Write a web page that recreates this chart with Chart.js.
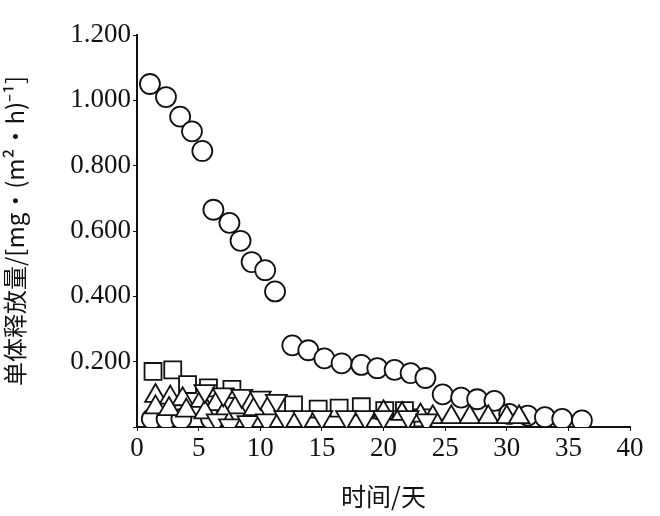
<!DOCTYPE html>
<html lang="zh">
<head>
<meta charset="UTF-8">
<title>单体释放量</title>
<script src="https://cdn.jsdelivr.net/npm/chart.js@4"></script>
<style>body{margin:0;background:#fff}</style>
</head>
<body>
<canvas id="myChart" width="660" height="516"></canvas>
<script>
const circleX = [1.05,2.35,3.5,4.46,5.3,6.2,7.5,8.4,9.3,10.4,11.2,12.6,13.9,15.2,16.6,18.2,19.5,20.9,22.2,23.4,24.8,26.3,27.6,29,30.2,31.7,33.1,34.5,36.1];
const circleY = [1.05,1.01,0.95,0.905,0.845,0.665,0.625,0.57,0.505,0.48,0.415,0.25,0.235,0.21,0.195,0.19,0.18,0.175,0.165,0.15,0.1,0.09,0.085,0.08,0.04,0.035,0.03,0.025,0.02];
const smallCircleX = [1.2,2.4,3.6,6.0];
const smallCircleY = [0.025,0.025,0.025,0.025];
const squareX = [1.3,2.9,4.1,5.8,7.7,12.7,14.7,16.4,18.2,20.1,21.7,23.2];
const squareY = [0.17,0.175,0.13,0.12,0.115,0.068,0.055,0.058,0.062,0.05,0.05,0.028];
const upX = [1.5,2.7,3.7,5.2,6.4,8,9.5,1.5,2.6,4,5.5,7,20,21.5,23,24,25.5,27,28.5,30,31];
const upY = [0.095,0.09,0.085,0.08,0.07,0.06,0.055,0.06,0.055,0.05,0.045,0.04,0.045,0.04,0.035,0.03,0.03,0.03,0.03,0.03,0.03];
const downX = [5.5,7,8.5,10,11.3,6.5,7.5,9,10.5,12,13.5,15,17,18.5,20,22,23.5];
const downY = [0.11,0.1,0.095,0.09,0.08,0.02,0.005,0.015,0.02,0.03,0.03,0.03,0.03,0.03,0.03,0.03,0.02];

function pts(xs, ys) { return xs.map((x, i) => ({x, y: ys[i]})); }
function series(xs, ys, style, r, rot) {
  return {
    data: pts(xs, ys), pointStyle: style, pointRadius: r, pointRotation: rot || 0,
    borderColor: '#111', backgroundColor: '#fff', borderWidth: 1.8, showLine: false
  };
}

const font = {family: 'Liberation Serif', size: 27};
const ctx = document.getElementById('myChart').getContext('2d');
new Chart(ctx, {
  type: 'scatter',
  data: {
    datasets: [
      series(downX, downY, 'triangle', 12, 180),
      series(upX, upY, 'triangle', 12),
      series(squareX, squareY, 'rect', 12),
      series(smallCircleX, smallCircleY, 'circle', 10),
      series(circleX, circleY, 'circle', 10)
    ]
  },
  options: {
    responsive: false,
    animation: false,
    layout: {padding: {top: 35, right: 30, left: 0, bottom: 5}},
    plugins: {legend: {display: false}, tooltip: {enabled: false}},
    scales: {
      x: {
        min: 0, max: 40,
        ticks: {stepSize: 5, color: '#111', font, padding: 2},
        grid: {drawOnChartArea: false, color: '#111', tickLength: 4},
        border: {color: '#111', width: 2},
        title: {display: true, text: '时间/天', color: '#111', font: {family: 'Noto Sans CJK SC', size: 25}, padding: 0},
        afterFit: s => { s.height = 84; }
      },
      y: {
        min: 0, max: 1.2,
        ticks: {stepSize: 0.2, color: '#111', font, padding: 2, callback: v => v === 0 ? '' : v.toFixed(3)},
        grid: {drawOnChartArea: false, color: '#111', tickLength: 4},
        border: {color: '#111', width: 2},
        title: {display: true, text: '单体释放量/[mg·(m²·h)⁻¹]', color: '#111', font: {family: 'Noto Sans CJK SC', size: 24}, padding: 0},
        afterFit: s => { s.width = 137; }
      }
    }
  }
});
</script>
</body>
</html>
